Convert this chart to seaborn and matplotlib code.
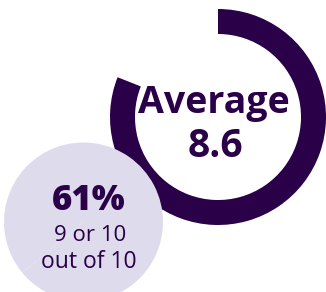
import matplotlib
matplotlib.use("Agg")
import matplotlib.pyplot as plt
import seaborn as sns

# values
average_score = 8.6
ring_share = [81, 19]          # filled part of the ring vs gap (percent of circle)
top_box_pct = 61
top_box_label = ["9 or 10", "out of 10"]

dark = "#2a0048"
lavender = "#dedcec"

sns.set_theme(style="white")
plt.rcParams["font.family"] = ["Open Sans", "DejaVu Sans"]

fig = plt.figure(figsize=(3.26, 2.92), dpi=100)
ax = fig.add_axes([0, 0, 1, 1])

# big ring (gauge)
ax.pie(ring_share, colors=[dark, "none"], startangle=90, counterclock=False,
       center=(218, 175), radius=108, wedgeprops=dict(width=25, linewidth=0))

# lavender bubble on top
ax.pie([top_box_pct, 100 - top_box_pct], colors=[lavender, lavender],
       center=(83.5, 70), radius=79.5, wedgeprops=dict(linewidth=0))

ax.set_xlim(0, 326)
ax.set_ylim(0, 292)
ax.set_aspect("equal")
ax.axis("off")

ax.text(214, 292 - 113, "Average", ha="center", va="baseline",
        fontsize=27, fontweight="bold", color=dark)
ax.text(215, 292 - 157, f"{average_score}", ha="center", va="baseline",
        fontsize=28, fontweight="bold", color=dark)

ax.text(89, 292 - 210, f"{top_box_pct}%", ha="center", va="baseline",
        fontsize=25, fontweight="heavy", color=dark)
ax.text(90, 292 - 241, top_box_label[0], ha="center", va="baseline",
        fontsize=16, color=dark)
ax.text(89, 292 - 268, top_box_label[1], ha="center", va="baseline",
        fontsize=16.5, color=dark)

fig.savefig("out.png", dpi=100)
